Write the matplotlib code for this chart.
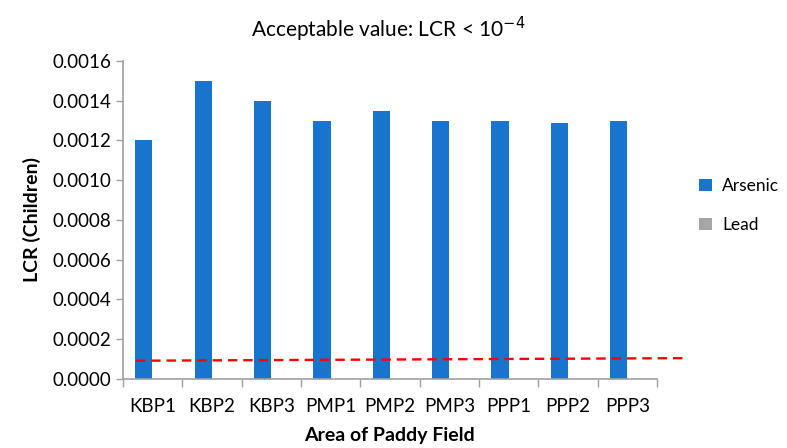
import numpy as np
import matplotlib
matplotlib.use("Agg")
import matplotlib.pyplot as plt
from matplotlib.ticker import FixedLocator

plt.rcParams['font.family'] = ['Lato', 'DejaVu Sans']

# Données
zones = ["KBP1", "KBP2", "KBP3", "PMP1", "PMP2", "PMP3", "PPP1", "PPP2", "PPP3"]
arsenic = [0.0012, 0.0015, 0.0014, 0.0013, 0.00135, 0.0013, 0.0013, 0.00129, 0.0013]
lead = [0.0, 0.0, 0.0, 0.0, 0.0, 0.0, 0.0, 0.0, 0.0]
# ligne pointillée (début, fin)
seuil_x = [-0.28, 8.99]
seuil_y = [0.000092, 0.000105]

fig = plt.figure(figsize=(7.87, 4.48), dpi=100)
ax = fig.add_axes([0.156, 0.154, 0.679, 0.710])

x = np.arange(len(zones))
w = 0.29
ax.bar(x - w / 2, arsenic, w, color="#1874CD", label="Arsenic", zorder=2)
ax.bar(x + w / 2, lead, w, color="#A5A5A5", label="Lead", zorder=2)

ax.plot(seuil_x, seuil_y, color="#FF0000", linestyle=(0, (4, 2.5)), linewidth=1.7,
        clip_on=False, zorder=3)

ax.set_xlim(-0.5, len(zones) - 0.5)
ax.set_ylim(0, 0.0016)
ax.set_yticks(np.arange(0, 0.00161, 0.0002))
ax.set_yticklabels([f"{v:.4f}" for v in np.arange(0, 0.00161, 0.0002)], fontsize=13.5)
ax.set_xticks(x)
ax.set_xticklabels(zones, fontsize=13.5)
ax.tick_params(axis="x", which="major", length=0, pad=14)
ax.xaxis.set_minor_locator(FixedLocator(np.arange(-0.5, len(zones), 1)))
ax.tick_params(axis="x", which="minor", length=6, color="#A0A0A0", width=1)
ax.tick_params(axis="y", length=5, color="#A0A0A0", width=1)

for s in ["top", "right"]:
    ax.spines[s].set_visible(False)
for s in ["left", "bottom"]:
    ax.spines[s].set_color("#A0A0A0")
    ax.spines[s].set_linewidth(1.2)

ax.set_xlabel("Area of Paddy Field", fontsize=14, fontweight="bold", labelpad=8)
ax.set_ylabel("LCR (Children)", fontsize=14, fontweight="bold", labelpad=8)
fig.text(0.493, 0.935, "Acceptable value: LCR < 10$^{-4}$", ha="center", va="center", fontsize=15)

ax.legend(loc="center left", bbox_to_anchor=(1.05, 0.545), frameon=False, fontsize=12.5,
          handlelength=0.7, handleheight=0.7, handletextpad=0.6, labelspacing=1.3)

fig.savefig("out.png", dpi=100)
